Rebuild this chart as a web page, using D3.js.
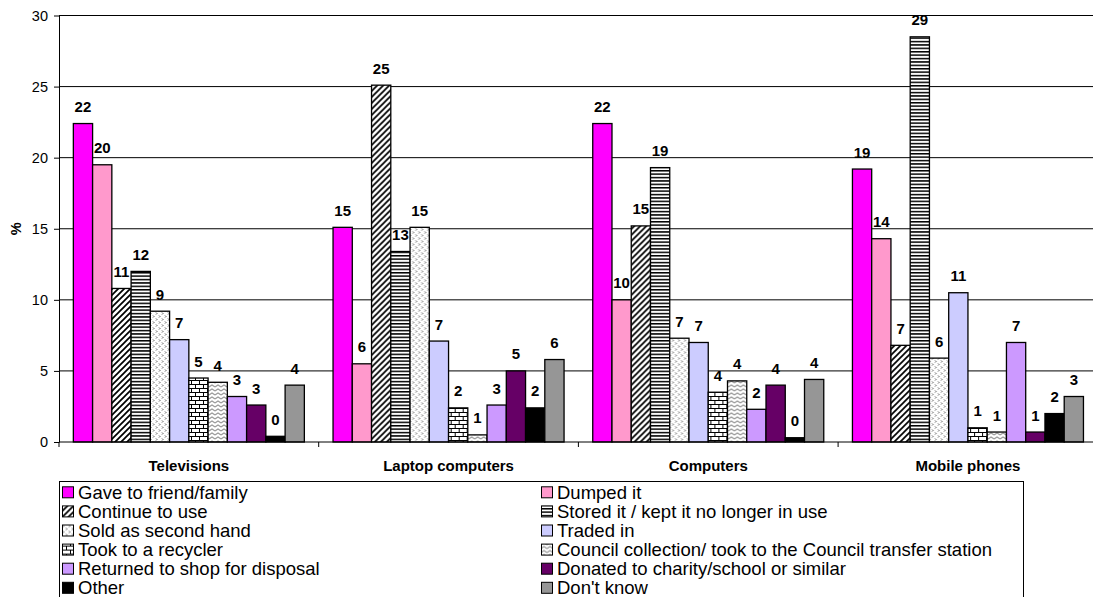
<!DOCTYPE html>
<html>
<head>
<meta charset="utf-8">
<script src="https://cdn.jsdelivr.net/npm/d3@7"></script>
<style>
  body { margin: 0; background: #fff; }
  svg { display: block; font-family: "Liberation Sans", Arial, sans-serif; }
</style>
</head>
<body>
<svg id="chart" width="1093" height="597"></svg>
<script>
// Product groups along the x axis
const categories = ["Televisions", "Laptop computers", "Computers", "Mobile phones"];

// Share of respondents (%) per disposal method, one value per product group
const gaveToFriend   = [22.4, 15.1, 22.4, 19.2];
const dumpedIt       = [19.5,  5.5, 10.0, 14.3];
const continueToUse  = [10.8, 25.1, 15.2,  6.8];
const storedIt       = [12.0, 13.4, 19.3, 28.5];
const soldSecondHand = [ 9.2, 15.1,  7.3,  5.9];
const tradedIn       = [ 7.2,  7.1,  7.0, 10.5];
const tookToRecycler = [ 4.5,  2.4,  3.5,  1.0];
const councilCollect = [ 4.2,  0.5,  4.3,  0.7];
const returnedToShop = [ 3.2,  2.6,  2.3,  7.0];
const donated        = [ 2.6,  5.0,  4.0,  0.7];
const other          = [ 0.4,  2.4,  0.3,  2.0];
const dontKnow       = [ 4.0,  5.8,  4.4,  3.2];

const seriesNames = [
  "Gave to friend/family",
  "Dumped it",
  "Continue to use",
  "Stored it / kept it no longer in use",
  "Sold as second hand",
  "Traded in",
  "Took to a recycler",
  "Council collection/ took to the Council transfer station",
  "Returned to shop for disposal",
  "Donated to charity/school or similar",
  "Other",
  "Don't know"
];
const seriesValues = [
  gaveToFriend, dumpedIt, continueToUse, storedIt, soldSecondHand, tradedIn,
  tookToRecycler, councilCollect, returnedToShop, donated, other, dontKnow
];
const seriesFills = [
  "#FF00FF", "#FF99CC", "url(#diagWide)", "url(#horizNarrow)", "url(#confetti)", "#CCCCFF",
  "url(#brick)", "url(#zigzag)", "#CC99FF", "#660066", "#000000", "#969696"
];

const yTicks = [0, 5, 10, 15, 20, 25, 30];
const yTitle = "%";

const series = seriesNames.map((name, i) => ({ name, key: "s" + i, values: seriesValues[i], fill: seriesFills[i] }));

const svg = d3.select("#chart");
const defs = svg.append("defs");

// Hatch patterns for the monochrome series
const pDiag = defs.append("pattern").attr("id", "diagWide")
  .attr("patternUnits", "userSpaceOnUse").attr("width", 6).attr("height", 6);
pDiag.append("rect").attr("width", 6).attr("height", 6).attr("fill", "#fff");
pDiag.append("path").attr("d", "M-1,1 L1,-1 M0,6 L6,0 M5,7 L7,5")
  .attr("stroke", "#000").attr("stroke-width", 1.7);

const pHoriz = defs.append("pattern").attr("id", "horizNarrow")
  .attr("patternUnits", "userSpaceOnUse").attr("width", 6).attr("height", 3.4);
pHoriz.append("rect").attr("width", 6).attr("height", 3.4).attr("fill", "#fff");
pHoriz.append("rect").attr("y", 0).attr("width", 6).attr("height", 1.5).attr("fill", "#000");

const pConf = defs.append("pattern").attr("id", "confetti")
  .attr("patternUnits", "userSpaceOnUse").attr("width", 6).attr("height", 6);
pConf.append("rect").attr("width", 6).attr("height", 6).attr("fill", "#fff");
pConf.append("path").attr("d", "M1,0.5 L2,1.5 L1,2.5 M4,3.5 L5,4.5 L4,5.5")
  .attr("stroke", "#222").attr("stroke-width", 0.8).attr("fill", "none");

const pBrick = defs.append("pattern").attr("id", "brick")
  .attr("patternUnits", "userSpaceOnUse").attr("width", 8).attr("height", 8);
pBrick.append("rect").attr("width", 8).attr("height", 8).attr("fill", "#fff");
pBrick.append("path").attr("d", "M0,0.5 H8 M0,4.5 H8 M0.5,0.5 V4.5 M4.5,4.5 V8.5")
  .attr("stroke", "#000").attr("stroke-width", 1).attr("fill", "none");

const pZig = defs.append("pattern").attr("id", "zigzag")
  .attr("patternUnits", "userSpaceOnUse").attr("width", 6).attr("height", 4);
pZig.append("rect").attr("width", 6).attr("height", 4).attr("fill", "#fff");
pZig.append("path").attr("d", "M0,3 L3,1 L6,3")
  .attr("stroke", "#999").attr("stroke-width", 1.1).attr("fill", "none");

// Plot geometry
const plot = { left: 59, top: 15.5, bottom: 442, groupWidth: 259.7 };
plot.right = plot.left + plot.groupWidth * categories.length;

const x0 = d3.scaleBand().domain(categories).range([plot.left, plot.right]).padding(0);
const x1 = d3.scaleBand().domain(series.map(s => s.key)).range([0, x0.bandwidth()])
  .paddingInner(0).paddingOuter(0.745);
const y = d3.scaleLinear().domain([0, 30]).range([plot.bottom, plot.top]);

// Horizontal gridlines
svg.append("g").selectAll("line").data(yTicks.filter(t => t > 0)).join("line")
  .attr("x1", plot.left).attr("x2", plot.right)
  .attr("y1", d => y(d)).attr("y2", d => y(d))
  .attr("stroke", "#000").attr("stroke-width", 1);

// Bars
const groups = svg.append("g").selectAll("g").data(categories).join("g")
  .attr("transform", d => `translate(${x0(d)},0)`);

groups.selectAll("rect")
  .data((c, ci) => series.map(s => ({ key: s.key, fill: s.fill, value: s.values[ci] })))
  .join("rect")
  .attr("x", d => x1(d.key))
  .attr("width", x1.bandwidth())
  .attr("y", d => y(d.value))
  .attr("height", d => y(0) - y(d.value))
  .attr("fill", d => d.fill)
  .attr("stroke", "#000").attr("stroke-width", 1.3);

// Value labels
groups.selectAll("text")
  .data((c, ci) => series.map(s => ({ key: s.key, value: s.values[ci] })))
  .join("text")
  .attr("x", d => x1(d.key) + x1.bandwidth() / 2)
  .attr("y", d => y(d.value) - 11.5)
  .attr("text-anchor", "middle")
  .attr("font-size", "15px").attr("font-weight", "bold").attr("fill", "#000")
  .text(d => Math.round(d.value));

// Y axis
const yAxis = svg.append("g").attr("transform", `translate(${plot.left},0)`)
  .call(d3.axisLeft(y).tickValues(yTicks).tickSize(5).tickSizeOuter(0).tickPadding(6));
yAxis.select(".domain").attr("stroke", "#000");
yAxis.selectAll(".tick line").attr("stroke", "#000");
yAxis.selectAll(".tick text").attr("font-size", "14.5px").attr("fill", "#000")
  .attr("font-family", "Liberation Sans, Arial, sans-serif");

svg.append("text")
  .attr("transform", `translate(20.5,${(plot.top + plot.bottom) / 2}) rotate(-90)`)
  .attr("text-anchor", "middle")
  .attr("font-size", "14.5px").attr("font-weight", "bold")
  .text(yTitle);

// X axis line with ticks between groups
svg.append("line")
  .attr("x1", plot.left).attr("x2", plot.right)
  .attr("y1", plot.bottom).attr("y2", plot.bottom)
  .attr("stroke", "#000");
const boundaries = categories.map(c => x0(c)).concat([plot.right]);
svg.append("g").selectAll("line").data(boundaries).join("line")
  .attr("x1", d => d).attr("x2", d => d)
  .attr("y1", plot.bottom).attr("y2", plot.bottom + 5)
  .attr("stroke", "#000");

svg.append("g").selectAll("text").data(categories).join("text")
  .attr("x", d => x0(d) + x0.bandwidth() / 2)
  .attr("y", 470.5)
  .attr("text-anchor", "middle")
  .attr("font-size", "15px").attr("font-weight", "bold")
  .text(d => d);

// Legend: two equal-width columns, filled row by row
const legend = { left: 59.5, top: 481.5, right: 1023.5, rowTop: 492.3, rowStep: 19.1, col1: 62, col2: 541, fontSize: 18.5 };
svg.append("rect")
  .attr("x", legend.left).attr("y", legend.top)
  .attr("width", legend.right - legend.left)
  .attr("height", 130)
  .attr("fill", "#fff").attr("stroke", "#000").attr("stroke-width", 1);

const items = svg.append("g").selectAll("g").data(series).join("g")
  .attr("transform", (d, i) => {
    const col = i % 2, row = Math.floor(i / 2);
    const xPos = col === 0 ? legend.col1 : legend.col2;
    return `translate(${xPos},${legend.rowTop + row * legend.rowStep})`;
  });
items.append("rect")
  .attr("x", 0.5).attr("y", -5.5).attr("width", 11).attr("height", 11)
  .attr("fill", d => d.fill).attr("stroke", "#000").attr("stroke-width", 1);
items.append("text")
  .attr("x", 16).attr("y", legend.fontSize * 0.36)
  .attr("font-size", legend.fontSize + "px")
  .text(d => d.name);
</script>
</body>
</html>
